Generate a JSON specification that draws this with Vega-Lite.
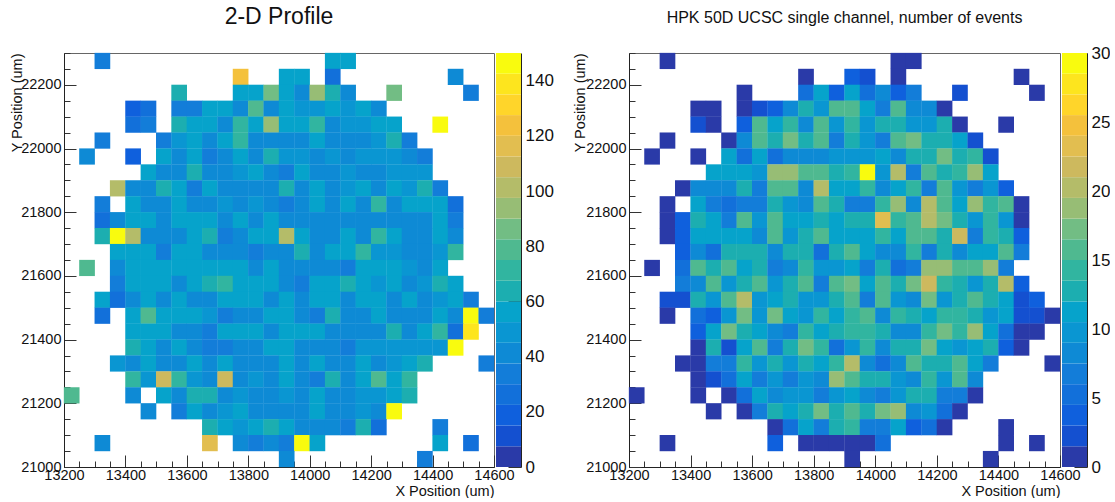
{"$schema":"https://vega.github.io/schema/vega-lite/v6.json","padding":{"left":8,"top":5,"right":0,"bottom":0},"background":"white","config":{"font":"Liberation Sans","view":{"stroke":"#666","strokeWidth":1},"axis":{"grid":false,"labelFont":"Liberation Sans","titleFont":"Liberation Sans","labelColor":"#111","titleColor":"#111","domainColor":"#222","tickColor":"#333"},"title":{"font":"Liberation Sans","color":"#111","fontWeight":"normal"}},"bounds":"flush","spacing":2,"datasets":{"left":[
{"x":13325,"y":22275,"v":34},{"x":14075,"y":22275,"v":56},{"x":14125,"y":22275,"v":58},
{"x":13775,"y":22225,"v":124},{"x":13925,"y":22225,"v":56},{"x":13975,"y":22225,"v":56},{"x":14075,"y":22225,"v":26},{"x":14475,"y":22225,"v":41},
{"x":13575,"y":22175,"v":64},{"x":13775,"y":22175,"v":56},{"x":13825,"y":22175,"v":56},{"x":13875,"y":22175,"v":86},{"x":13925,"y":22175,"v":56},{"x":13975,"y":22175,"v":41},{"x":14025,"y":22175,"v":94},{"x":14075,"y":22175,"v":64},{"x":14125,"y":22175,"v":41},{"x":14275,"y":22175,"v":86},{"x":14525,"y":22175,"v":34},
{"x":13425,"y":22125,"v":19},{"x":13475,"y":22125,"v":26},{"x":13575,"y":22125,"v":34},{"x":13625,"y":22125,"v":34},{"x":13675,"y":22125,"v":56},{"x":13725,"y":22125,"v":56},{"x":13775,"y":22125,"v":41},{"x":13825,"y":22125,"v":79},{"x":13875,"y":22125,"v":41},{"x":13925,"y":22125,"v":56},{"x":13975,"y":22125,"v":49},{"x":14025,"y":22125,"v":49},{"x":14075,"y":22125,"v":58},{"x":14125,"y":22125,"v":49},{"x":14175,"y":22125,"v":58},{"x":14225,"y":22125,"v":41},
{"x":13425,"y":22075,"v":26},{"x":13475,"y":22075,"v":34},{"x":13575,"y":22075,"v":64},{"x":13625,"y":22075,"v":56},{"x":13675,"y":22075,"v":56},{"x":13725,"y":22075,"v":41},{"x":13775,"y":22075,"v":71},{"x":13825,"y":22075,"v":58},{"x":13875,"y":22075,"v":94},{"x":13925,"y":22075,"v":56},{"x":13975,"y":22075,"v":56},{"x":14025,"y":22075,"v":71},{"x":14075,"y":22075,"v":41},{"x":14125,"y":22075,"v":49},{"x":14175,"y":22075,"v":49},{"x":14225,"y":22075,"v":58},{"x":14275,"y":22075,"v":56},{"x":14425,"y":22075,"v":146},
{"x":13325,"y":22025,"v":34},{"x":13525,"y":22025,"v":34},{"x":13575,"y":22025,"v":49},{"x":13625,"y":22025,"v":56},{"x":13675,"y":22025,"v":41},{"x":13725,"y":22025,"v":56},{"x":13775,"y":22025,"v":71},{"x":13825,"y":22025,"v":41},{"x":13875,"y":22025,"v":41},{"x":13925,"y":22025,"v":41},{"x":13975,"y":22025,"v":41},{"x":14025,"y":22025,"v":56},{"x":14075,"y":22025,"v":41},{"x":14125,"y":22025,"v":41},{"x":14175,"y":22025,"v":41},{"x":14225,"y":22025,"v":49},{"x":14275,"y":22025,"v":64},{"x":14325,"y":22025,"v":34},
{"x":13275,"y":21975,"v":41},{"x":13425,"y":21975,"v":19},{"x":13525,"y":21975,"v":58},{"x":13575,"y":21975,"v":41},{"x":13625,"y":21975,"v":56},{"x":13675,"y":21975,"v":34},{"x":13725,"y":21975,"v":41},{"x":13775,"y":21975,"v":56},{"x":13825,"y":21975,"v":41},{"x":13875,"y":21975,"v":64},{"x":13925,"y":21975,"v":49},{"x":13975,"y":21975,"v":49},{"x":14025,"y":21975,"v":41},{"x":14075,"y":21975,"v":49},{"x":14125,"y":21975,"v":41},{"x":14175,"y":21975,"v":49},{"x":14225,"y":21975,"v":49},{"x":14275,"y":21975,"v":49},{"x":14325,"y":21975,"v":41},{"x":14375,"y":21975,"v":34},
{"x":13475,"y":21925,"v":56},{"x":13525,"y":21925,"v":41},{"x":13575,"y":21925,"v":41},{"x":13625,"y":21925,"v":64},{"x":13675,"y":21925,"v":41},{"x":13725,"y":21925,"v":41},{"x":13775,"y":21925,"v":49},{"x":13825,"y":21925,"v":58},{"x":13875,"y":21925,"v":41},{"x":13925,"y":21925,"v":34},{"x":13975,"y":21925,"v":58},{"x":14025,"y":21925,"v":41},{"x":14075,"y":21925,"v":41},{"x":14125,"y":21925,"v":49},{"x":14175,"y":21925,"v":41},{"x":14225,"y":21925,"v":41},{"x":14275,"y":21925,"v":49},{"x":14325,"y":21925,"v":49},{"x":14375,"y":21925,"v":49},
{"x":13375,"y":21875,"v":101},{"x":13425,"y":21875,"v":41},{"x":13475,"y":21875,"v":41},{"x":13525,"y":21875,"v":64},{"x":13575,"y":21875,"v":56},{"x":13625,"y":21875,"v":34},{"x":13675,"y":21875,"v":56},{"x":13725,"y":21875,"v":41},{"x":13775,"y":21875,"v":41},{"x":13825,"y":21875,"v":41},{"x":13875,"y":21875,"v":41},{"x":13925,"y":21875,"v":64},{"x":13975,"y":21875,"v":41},{"x":14025,"y":21875,"v":56},{"x":14075,"y":21875,"v":41},{"x":14125,"y":21875,"v":49},{"x":14175,"y":21875,"v":56},{"x":14225,"y":21875,"v":41},{"x":14275,"y":21875,"v":56},{"x":14325,"y":21875,"v":49},{"x":14375,"y":21875,"v":64},{"x":14425,"y":21875,"v":34},
{"x":13325,"y":21825,"v":34},{"x":13425,"y":21825,"v":56},{"x":13475,"y":21825,"v":41},{"x":13525,"y":21825,"v":41},{"x":13575,"y":21825,"v":56},{"x":13625,"y":21825,"v":41},{"x":13675,"y":21825,"v":41},{"x":13725,"y":21825,"v":49},{"x":13775,"y":21825,"v":41},{"x":13825,"y":21825,"v":49},{"x":13875,"y":21825,"v":41},{"x":13925,"y":21825,"v":34},{"x":13975,"y":21825,"v":41},{"x":14025,"y":21825,"v":56},{"x":14075,"y":21825,"v":41},{"x":14125,"y":21825,"v":56},{"x":14175,"y":21825,"v":41},{"x":14225,"y":21825,"v":71},{"x":14275,"y":21825,"v":41},{"x":14325,"y":21825,"v":56},{"x":14375,"y":21825,"v":56},{"x":14425,"y":21825,"v":56},{"x":14475,"y":21825,"v":26},
{"x":13325,"y":21775,"v":26},{"x":13375,"y":21775,"v":41},{"x":13425,"y":21775,"v":56},{"x":13475,"y":21775,"v":58},{"x":13525,"y":21775,"v":41},{"x":13575,"y":21775,"v":56},{"x":13625,"y":21775,"v":56},{"x":13675,"y":21775,"v":58},{"x":13725,"y":21775,"v":41},{"x":13775,"y":21775,"v":56},{"x":13825,"y":21775,"v":41},{"x":13875,"y":21775,"v":56},{"x":13925,"y":21775,"v":41},{"x":13975,"y":21775,"v":41},{"x":14025,"y":21775,"v":41},{"x":14075,"y":21775,"v":41},{"x":14125,"y":21775,"v":41},{"x":14175,"y":21775,"v":41},{"x":14225,"y":21775,"v":41},{"x":14275,"y":21775,"v":41},{"x":14325,"y":21775,"v":41},{"x":14375,"y":21775,"v":41},{"x":14425,"y":21775,"v":56},{"x":14475,"y":21775,"v":34},
{"x":13325,"y":21725,"v":64},{"x":13375,"y":21725,"v":146},{"x":13425,"y":21725,"v":101},{"x":13475,"y":21725,"v":41},{"x":13525,"y":21725,"v":41},{"x":13575,"y":21725,"v":41},{"x":13625,"y":21725,"v":58},{"x":13675,"y":21725,"v":64},{"x":13725,"y":21725,"v":34},{"x":13775,"y":21725,"v":41},{"x":13825,"y":21725,"v":56},{"x":13875,"y":21725,"v":56},{"x":13925,"y":21725,"v":101},{"x":13975,"y":21725,"v":56},{"x":14025,"y":21725,"v":41},{"x":14075,"y":21725,"v":41},{"x":14125,"y":21725,"v":58},{"x":14175,"y":21725,"v":41},{"x":14225,"y":21725,"v":71},{"x":14275,"y":21725,"v":56},{"x":14325,"y":21725,"v":41},{"x":14375,"y":21725,"v":41},{"x":14425,"y":21725,"v":56},{"x":14475,"y":21725,"v":41},
{"x":13375,"y":21675,"v":56},{"x":13425,"y":21675,"v":56},{"x":13475,"y":21675,"v":56},{"x":13525,"y":21675,"v":34},{"x":13575,"y":21675,"v":58},{"x":13625,"y":21675,"v":56},{"x":13675,"y":21675,"v":41},{"x":13725,"y":21675,"v":41},{"x":13775,"y":21675,"v":41},{"x":13825,"y":21675,"v":34},{"x":13875,"y":21675,"v":41},{"x":13925,"y":21675,"v":41},{"x":13975,"y":21675,"v":64},{"x":14025,"y":21675,"v":41},{"x":14075,"y":21675,"v":56},{"x":14125,"y":21675,"v":56},{"x":14175,"y":21675,"v":71},{"x":14225,"y":21675,"v":49},{"x":14275,"y":21675,"v":49},{"x":14325,"y":21675,"v":41},{"x":14375,"y":21675,"v":41},{"x":14425,"y":21675,"v":49},{"x":14475,"y":21675,"v":71},
{"x":13275,"y":21625,"v":79},{"x":13375,"y":21625,"v":41},{"x":13425,"y":21625,"v":56},{"x":13475,"y":21625,"v":58},{"x":13525,"y":21625,"v":56},{"x":13575,"y":21625,"v":58},{"x":13625,"y":21625,"v":56},{"x":13675,"y":21625,"v":56},{"x":13725,"y":21625,"v":56},{"x":13775,"y":21625,"v":56},{"x":13825,"y":21625,"v":41},{"x":13875,"y":21625,"v":56},{"x":13925,"y":21625,"v":41},{"x":13975,"y":21625,"v":41},{"x":14025,"y":21625,"v":41},{"x":14075,"y":21625,"v":41},{"x":14125,"y":21625,"v":34},{"x":14175,"y":21625,"v":56},{"x":14225,"y":21625,"v":58},{"x":14275,"y":21625,"v":56},{"x":14325,"y":21625,"v":49},{"x":14375,"y":21625,"v":41},{"x":14425,"y":21625,"v":56},
{"x":13375,"y":21575,"v":34},{"x":13425,"y":21575,"v":56},{"x":13475,"y":21575,"v":56},{"x":13525,"y":21575,"v":56},{"x":13575,"y":21575,"v":41},{"x":13625,"y":21575,"v":58},{"x":13675,"y":21575,"v":64},{"x":13725,"y":21575,"v":71},{"x":13775,"y":21575,"v":56},{"x":13825,"y":21575,"v":56},{"x":13875,"y":21575,"v":58},{"x":13925,"y":21575,"v":41},{"x":13975,"y":21575,"v":34},{"x":14025,"y":21575,"v":56},{"x":14075,"y":21575,"v":56},{"x":14125,"y":21575,"v":64},{"x":14175,"y":21575,"v":56},{"x":14225,"y":21575,"v":49},{"x":14275,"y":21575,"v":58},{"x":14325,"y":21575,"v":41},{"x":14375,"y":21575,"v":49},{"x":14425,"y":21575,"v":64},{"x":14475,"y":21575,"v":58},
{"x":13325,"y":21525,"v":56},{"x":13375,"y":21525,"v":26},{"x":13425,"y":21525,"v":41},{"x":13475,"y":21525,"v":56},{"x":13525,"y":21525,"v":41},{"x":13575,"y":21525,"v":58},{"x":13625,"y":21525,"v":41},{"x":13675,"y":21525,"v":41},{"x":13725,"y":21525,"v":56},{"x":13775,"y":21525,"v":56},{"x":13825,"y":21525,"v":58},{"x":13875,"y":21525,"v":41},{"x":13925,"y":21525,"v":56},{"x":13975,"y":21525,"v":41},{"x":14025,"y":21525,"v":56},{"x":14075,"y":21525,"v":58},{"x":14125,"y":21525,"v":41},{"x":14175,"y":21525,"v":58},{"x":14225,"y":21525,"v":58},{"x":14275,"y":21525,"v":41},{"x":14325,"y":21525,"v":56},{"x":14375,"y":21525,"v":41},{"x":14425,"y":21525,"v":49},{"x":14475,"y":21525,"v":56},{"x":14525,"y":21525,"v":34},
{"x":13325,"y":21475,"v":26},{"x":13425,"y":21475,"v":56},{"x":13475,"y":21475,"v":79},{"x":13525,"y":21475,"v":56},{"x":13575,"y":21475,"v":58},{"x":13625,"y":21475,"v":56},{"x":13675,"y":21475,"v":49},{"x":13725,"y":21475,"v":34},{"x":13775,"y":21475,"v":41},{"x":13825,"y":21475,"v":41},{"x":13875,"y":21475,"v":58},{"x":13925,"y":21475,"v":56},{"x":13975,"y":21475,"v":41},{"x":14025,"y":21475,"v":34},{"x":14075,"y":21475,"v":64},{"x":14125,"y":21475,"v":41},{"x":14175,"y":21475,"v":41},{"x":14225,"y":21475,"v":58},{"x":14275,"y":21475,"v":41},{"x":14325,"y":21475,"v":41},{"x":14375,"y":21475,"v":41},{"x":14425,"y":21475,"v":56},{"x":14475,"y":21475,"v":41},{"x":14525,"y":21475,"v":146},{"x":14575,"y":21475,"v":34},
{"x":13425,"y":21425,"v":58},{"x":13475,"y":21425,"v":58},{"x":13525,"y":21425,"v":56},{"x":13575,"y":21425,"v":41},{"x":13625,"y":21425,"v":41},{"x":13675,"y":21425,"v":34},{"x":13725,"y":21425,"v":56},{"x":13775,"y":21425,"v":56},{"x":13825,"y":21425,"v":58},{"x":13875,"y":21425,"v":41},{"x":13925,"y":21425,"v":56},{"x":13975,"y":21425,"v":56},{"x":14025,"y":21425,"v":56},{"x":14075,"y":21425,"v":41},{"x":14125,"y":21425,"v":41},{"x":14175,"y":21425,"v":41},{"x":14225,"y":21425,"v":41},{"x":14275,"y":21425,"v":64},{"x":14325,"y":21425,"v":41},{"x":14375,"y":21425,"v":56},{"x":14425,"y":21425,"v":71},{"x":14475,"y":21425,"v":26},{"x":14525,"y":21425,"v":139},
{"x":13425,"y":21375,"v":64},{"x":13475,"y":21375,"v":58},{"x":13525,"y":21375,"v":41},{"x":13575,"y":21375,"v":56},{"x":13625,"y":21375,"v":41},{"x":13675,"y":21375,"v":34},{"x":13725,"y":21375,"v":34},{"x":13775,"y":21375,"v":41},{"x":13825,"y":21375,"v":41},{"x":13875,"y":21375,"v":58},{"x":13925,"y":21375,"v":56},{"x":13975,"y":21375,"v":41},{"x":14025,"y":21375,"v":41},{"x":14075,"y":21375,"v":41},{"x":14125,"y":21375,"v":34},{"x":14175,"y":21375,"v":49},{"x":14225,"y":21375,"v":49},{"x":14275,"y":21375,"v":49},{"x":14325,"y":21375,"v":49},{"x":14375,"y":21375,"v":49},{"x":14425,"y":21375,"v":49},{"x":14475,"y":21375,"v":146},
{"x":13375,"y":21325,"v":49},{"x":13425,"y":21325,"v":41},{"x":13475,"y":21325,"v":58},{"x":13525,"y":21325,"v":41},{"x":13575,"y":21325,"v":41},{"x":13625,"y":21325,"v":58},{"x":13675,"y":21325,"v":41},{"x":13725,"y":21325,"v":56},{"x":13775,"y":21325,"v":41},{"x":13825,"y":21325,"v":41},{"x":13875,"y":21325,"v":41},{"x":13925,"y":21325,"v":56},{"x":13975,"y":21325,"v":41},{"x":14025,"y":21325,"v":58},{"x":14075,"y":21325,"v":41},{"x":14125,"y":21325,"v":41},{"x":14175,"y":21325,"v":56},{"x":14225,"y":21325,"v":41},{"x":14275,"y":21325,"v":49},{"x":14325,"y":21325,"v":56},{"x":14375,"y":21325,"v":64},{"x":14575,"y":21325,"v":34},
{"x":13425,"y":21275,"v":71},{"x":13475,"y":21275,"v":49},{"x":13525,"y":21275,"v":109},{"x":13575,"y":21275,"v":71},{"x":13625,"y":21275,"v":49},{"x":13675,"y":21275,"v":41},{"x":13725,"y":21275,"v":109},{"x":13775,"y":21275,"v":41},{"x":13825,"y":21275,"v":49},{"x":13875,"y":21275,"v":41},{"x":13925,"y":21275,"v":58},{"x":13975,"y":21275,"v":41},{"x":14025,"y":21275,"v":34},{"x":14075,"y":21275,"v":64},{"x":14125,"y":21275,"v":41},{"x":14175,"y":21275,"v":56},{"x":14225,"y":21275,"v":79},{"x":14275,"y":21275,"v":56},{"x":14325,"y":21275,"v":71},
{"x":13225,"y":21225,"v":79},{"x":13425,"y":21225,"v":41},{"x":13525,"y":21225,"v":56},{"x":13575,"y":21225,"v":41},{"x":13625,"y":21225,"v":64},{"x":13675,"y":21225,"v":64},{"x":13725,"y":21225,"v":41},{"x":13775,"y":21225,"v":49},{"x":13825,"y":21225,"v":41},{"x":13875,"y":21225,"v":41},{"x":13925,"y":21225,"v":49},{"x":13975,"y":21225,"v":41},{"x":14025,"y":21225,"v":56},{"x":14075,"y":21225,"v":41},{"x":14125,"y":21225,"v":41},{"x":14175,"y":21225,"v":49},{"x":14225,"y":21225,"v":49},{"x":14275,"y":21225,"v":56},{"x":14325,"y":21225,"v":64},
{"x":13475,"y":21175,"v":41},{"x":13575,"y":21175,"v":34},{"x":13625,"y":21175,"v":58},{"x":13675,"y":21175,"v":41},{"x":13725,"y":21175,"v":49},{"x":13775,"y":21175,"v":56},{"x":13825,"y":21175,"v":41},{"x":13875,"y":21175,"v":41},{"x":13925,"y":21175,"v":41},{"x":13975,"y":21175,"v":41},{"x":14025,"y":21175,"v":56},{"x":14075,"y":21175,"v":41},{"x":14125,"y":21175,"v":41},{"x":14175,"y":21175,"v":49},{"x":14225,"y":21175,"v":41},{"x":14275,"y":21175,"v":146},
{"x":13675,"y":21125,"v":64},{"x":13725,"y":21125,"v":56},{"x":13775,"y":21125,"v":49},{"x":13825,"y":21125,"v":56},{"x":13875,"y":21125,"v":64},{"x":13925,"y":21125,"v":56},{"x":13975,"y":21125,"v":41},{"x":14025,"y":21125,"v":41},{"x":14075,"y":21125,"v":41},{"x":14125,"y":21125,"v":34},{"x":14175,"y":21125,"v":64},{"x":14225,"y":21125,"v":26},{"x":14425,"y":21125,"v":34},
{"x":13325,"y":21075,"v":41},{"x":13675,"y":21075,"v":116},{"x":13775,"y":21075,"v":41},{"x":13825,"y":21075,"v":34},{"x":13875,"y":21075,"v":41},{"x":13925,"y":21075,"v":34},{"x":13975,"y":21075,"v":146},{"x":14025,"y":21075,"v":56},{"x":14425,"y":21075,"v":56},{"x":14525,"y":21075,"v":26},
{"x":13925,"y":21025,"v":41},{"x":14375,"y":21025,"v":34}
],"right":[
{"x":13325,"y":22275,"v":1},{"x":14075,"y":22275,"v":1},{"x":14125,"y":22275,"v":1},
{"x":13775,"y":22225,"v":1},{"x":13925,"y":22225,"v":3},{"x":13975,"y":22225,"v":2},{"x":14075,"y":22225,"v":1},{"x":14475,"y":22225,"v":1},
{"x":13575,"y":22175,"v":1},{"x":13775,"y":22175,"v":5},{"x":13825,"y":22175,"v":11},{"x":13875,"y":22175,"v":3},{"x":13925,"y":22175,"v":11},{"x":13975,"y":22175,"v":5},{"x":14025,"y":22175,"v":8},{"x":14075,"y":22175,"v":3},{"x":14125,"y":22175,"v":6},{"x":14275,"y":22175,"v":2},{"x":14525,"y":22175,"v":1},
{"x":13425,"y":22125,"v":1},{"x":13475,"y":22125,"v":1},{"x":13575,"y":22125,"v":1},{"x":13625,"y":22125,"v":2},{"x":13675,"y":22125,"v":3},{"x":13725,"y":22125,"v":8},{"x":13775,"y":22125,"v":12},{"x":13825,"y":22125,"v":9},{"x":13875,"y":22125,"v":15},{"x":13925,"y":22125,"v":15},{"x":13975,"y":22125,"v":11},{"x":14025,"y":22125,"v":6},{"x":14075,"y":22125,"v":15},{"x":14125,"y":22125,"v":8},{"x":14175,"y":22125,"v":8},{"x":14225,"y":22125,"v":1},
{"x":13425,"y":22075,"v":2},{"x":13475,"y":22075,"v":1},{"x":13575,"y":22075,"v":3},{"x":13625,"y":22075,"v":15},{"x":13675,"y":22075,"v":11},{"x":13725,"y":22075,"v":14},{"x":13775,"y":22075,"v":8},{"x":13825,"y":22075,"v":15},{"x":13875,"y":22075,"v":9},{"x":13925,"y":22075,"v":14},{"x":13975,"y":22075,"v":9},{"x":14025,"y":22075,"v":12},{"x":14075,"y":22075,"v":12},{"x":14125,"y":22075,"v":9},{"x":14175,"y":22075,"v":9},{"x":14225,"y":22075,"v":12},{"x":14275,"y":22075,"v":1},{"x":14425,"y":22075,"v":1},
{"x":13325,"y":22025,"v":1},{"x":13525,"y":22025,"v":1},{"x":13575,"y":22025,"v":8},{"x":13625,"y":22025,"v":15},{"x":13675,"y":22025,"v":12},{"x":13725,"y":22025,"v":17},{"x":13775,"y":22025,"v":12},{"x":13825,"y":22025,"v":15},{"x":13875,"y":22025,"v":6},{"x":13925,"y":22025,"v":12},{"x":13975,"y":22025,"v":9},{"x":14025,"y":22025,"v":6},{"x":14075,"y":22025,"v":15},{"x":14125,"y":22025,"v":17},{"x":14175,"y":22025,"v":12},{"x":14225,"y":22025,"v":12},{"x":14275,"y":22025,"v":11},{"x":14325,"y":22025,"v":2},
{"x":13275,"y":21975,"v":1},{"x":13425,"y":21975,"v":1},{"x":13525,"y":21975,"v":11},{"x":13575,"y":21975,"v":5},{"x":13625,"y":21975,"v":11},{"x":13675,"y":21975,"v":5},{"x":13725,"y":21975,"v":8},{"x":13775,"y":21975,"v":8},{"x":13825,"y":21975,"v":8},{"x":13875,"y":21975,"v":9},{"x":13925,"y":21975,"v":9},{"x":13975,"y":21975,"v":9},{"x":14025,"y":21975,"v":11},{"x":14075,"y":21975,"v":8},{"x":14125,"y":21975,"v":12},{"x":14175,"y":21975,"v":12},{"x":14225,"y":21975,"v":17},{"x":14275,"y":21975,"v":12},{"x":14325,"y":21975,"v":14},{"x":14375,"y":21975,"v":2},
{"x":13475,"y":21925,"v":11},{"x":13525,"y":21925,"v":11},{"x":13575,"y":21925,"v":11},{"x":13625,"y":21925,"v":9},{"x":13675,"y":21925,"v":18},{"x":13725,"y":21925,"v":18},{"x":13775,"y":21925,"v":15},{"x":13825,"y":21925,"v":15},{"x":13875,"y":21925,"v":12},{"x":13925,"y":21925,"v":14},{"x":13975,"y":21925,"v":30},{"x":14025,"y":21925,"v":9},{"x":14075,"y":21925,"v":20},{"x":14125,"y":21925,"v":6},{"x":14175,"y":21925,"v":15},{"x":14225,"y":21925,"v":12},{"x":14275,"y":21925,"v":14},{"x":14325,"y":21925,"v":18},{"x":14375,"y":21925,"v":11},
{"x":13375,"y":21875,"v":1},{"x":13425,"y":21875,"v":8},{"x":13475,"y":21875,"v":8},{"x":13525,"y":21875,"v":8},{"x":13575,"y":21875,"v":12},{"x":13625,"y":21875,"v":6},{"x":13675,"y":21875,"v":15},{"x":13725,"y":21875,"v":15},{"x":13775,"y":21875,"v":8},{"x":13825,"y":21875,"v":20},{"x":13875,"y":21875,"v":11},{"x":13925,"y":21875,"v":11},{"x":13975,"y":21875,"v":14},{"x":14025,"y":21875,"v":8},{"x":14075,"y":21875,"v":11},{"x":14125,"y":21875,"v":14},{"x":14175,"y":21875,"v":6},{"x":14225,"y":21875,"v":15},{"x":14275,"y":21875,"v":9},{"x":14325,"y":21875,"v":6},{"x":14375,"y":21875,"v":9},{"x":14425,"y":21875,"v":3},
{"x":13325,"y":21825,"v":1},{"x":13425,"y":21825,"v":11},{"x":13475,"y":21825,"v":6},{"x":13525,"y":21825,"v":5},{"x":13575,"y":21825,"v":6},{"x":13625,"y":21825,"v":6},{"x":13675,"y":21825,"v":12},{"x":13725,"y":21825,"v":9},{"x":13775,"y":21825,"v":8},{"x":13825,"y":21825,"v":15},{"x":13875,"y":21825,"v":12},{"x":13925,"y":21825,"v":6},{"x":13975,"y":21825,"v":6},{"x":14025,"y":21825,"v":14},{"x":14075,"y":21825,"v":18},{"x":14125,"y":21825,"v":8},{"x":14175,"y":21825,"v":20},{"x":14225,"y":21825,"v":15},{"x":14275,"y":21825,"v":11},{"x":14325,"y":21825,"v":18},{"x":14375,"y":21825,"v":14},{"x":14425,"y":21825,"v":15},{"x":14475,"y":21825,"v":1},
{"x":13325,"y":21775,"v":1},{"x":13375,"y":21775,"v":3},{"x":13425,"y":21775,"v":12},{"x":13475,"y":21775,"v":11},{"x":13525,"y":21775,"v":6},{"x":13575,"y":21775,"v":15},{"x":13625,"y":21775,"v":9},{"x":13675,"y":21775,"v":15},{"x":13725,"y":21775,"v":11},{"x":13775,"y":21775,"v":11},{"x":13825,"y":21775,"v":12},{"x":13875,"y":21775,"v":11},{"x":13925,"y":21775,"v":12},{"x":13975,"y":21775,"v":12},{"x":14025,"y":21775,"v":23},{"x":14075,"y":21775,"v":14},{"x":14125,"y":21775,"v":15},{"x":14175,"y":21775,"v":20},{"x":14225,"y":21775,"v":17},{"x":14275,"y":21775,"v":12},{"x":14325,"y":21775,"v":9},{"x":14375,"y":21775,"v":14},{"x":14425,"y":21775,"v":9},{"x":14475,"y":21775,"v":1},
{"x":13325,"y":21725,"v":1},{"x":13375,"y":21725,"v":3},{"x":13425,"y":21725,"v":11},{"x":13475,"y":21725,"v":11},{"x":13525,"y":21725,"v":11},{"x":13575,"y":21725,"v":11},{"x":13625,"y":21725,"v":8},{"x":13675,"y":21725,"v":15},{"x":13725,"y":21725,"v":9},{"x":13775,"y":21725,"v":12},{"x":13825,"y":21725,"v":15},{"x":13875,"y":21725,"v":11},{"x":13925,"y":21725,"v":11},{"x":13975,"y":21725,"v":11},{"x":14025,"y":21725,"v":14},{"x":14075,"y":21725,"v":11},{"x":14125,"y":21725,"v":15},{"x":14175,"y":21725,"v":15},{"x":14225,"y":21725,"v":12},{"x":14275,"y":21725,"v":21},{"x":14325,"y":21725,"v":6},{"x":14375,"y":21725,"v":14},{"x":14425,"y":21725,"v":12},{"x":14475,"y":21725,"v":3},
{"x":13375,"y":21675,"v":3},{"x":13425,"y":21675,"v":8},{"x":13475,"y":21675,"v":5},{"x":13525,"y":21675,"v":12},{"x":13575,"y":21675,"v":12},{"x":13625,"y":21675,"v":12},{"x":13675,"y":21675,"v":8},{"x":13725,"y":21675,"v":12},{"x":13775,"y":21675,"v":12},{"x":13825,"y":21675,"v":5},{"x":13875,"y":21675,"v":12},{"x":13925,"y":21675,"v":15},{"x":13975,"y":21675,"v":11},{"x":14025,"y":21675,"v":8},{"x":14075,"y":21675,"v":8},{"x":14125,"y":21675,"v":14},{"x":14175,"y":21675,"v":6},{"x":14225,"y":21675,"v":12},{"x":14275,"y":21675,"v":8},{"x":14325,"y":21675,"v":11},{"x":14375,"y":21675,"v":11},{"x":14425,"y":21675,"v":15},{"x":14475,"y":21675,"v":6},
{"x":13275,"y":21625,"v":1},{"x":13375,"y":21625,"v":5},{"x":13425,"y":21625,"v":15},{"x":13475,"y":21625,"v":12},{"x":13525,"y":21625,"v":15},{"x":13575,"y":21625,"v":11},{"x":13625,"y":21625,"v":12},{"x":13675,"y":21625,"v":6},{"x":13725,"y":21625,"v":8},{"x":13775,"y":21625,"v":14},{"x":13825,"y":21625,"v":9},{"x":13875,"y":21625,"v":9},{"x":13925,"y":21625,"v":11},{"x":13975,"y":21625,"v":6},{"x":14025,"y":21625,"v":12},{"x":14075,"y":21625,"v":5},{"x":14125,"y":21625,"v":6},{"x":14175,"y":21625,"v":18},{"x":14225,"y":21625,"v":18},{"x":14275,"y":21625,"v":15},{"x":14325,"y":21625,"v":15},{"x":14375,"y":21625,"v":18},{"x":14425,"y":21625,"v":6},
{"x":13375,"y":21575,"v":6},{"x":13425,"y":21575,"v":8},{"x":13475,"y":21575,"v":15},{"x":13525,"y":21575,"v":9},{"x":13575,"y":21575,"v":12},{"x":13625,"y":21575,"v":15},{"x":13675,"y":21575,"v":9},{"x":13725,"y":21575,"v":12},{"x":13775,"y":21575,"v":15},{"x":13825,"y":21575,"v":6},{"x":13875,"y":21575,"v":15},{"x":13925,"y":21575,"v":17},{"x":13975,"y":21575,"v":11},{"x":14025,"y":21575,"v":15},{"x":14075,"y":21575,"v":12},{"x":14125,"y":21575,"v":17},{"x":14175,"y":21575,"v":21},{"x":14225,"y":21575,"v":14},{"x":14275,"y":21575,"v":12},{"x":14325,"y":21575,"v":9},{"x":14375,"y":21575,"v":12},{"x":14425,"y":21575,"v":20},{"x":14475,"y":21575,"v":3},
{"x":13325,"y":21525,"v":2},{"x":13375,"y":21525,"v":2},{"x":13425,"y":21525,"v":12},{"x":13475,"y":21525,"v":9},{"x":13525,"y":21525,"v":15},{"x":13575,"y":21525,"v":20},{"x":13625,"y":21525,"v":9},{"x":13675,"y":21525,"v":11},{"x":13725,"y":21525,"v":12},{"x":13775,"y":21525,"v":9},{"x":13825,"y":21525,"v":9},{"x":13875,"y":21525,"v":12},{"x":13925,"y":21525,"v":15},{"x":13975,"y":21525,"v":6},{"x":14025,"y":21525,"v":15},{"x":14075,"y":21525,"v":9},{"x":14125,"y":21525,"v":8},{"x":14175,"y":21525,"v":17},{"x":14225,"y":21525,"v":9},{"x":14275,"y":21525,"v":12},{"x":14325,"y":21525,"v":15},{"x":14375,"y":21525,"v":12},{"x":14425,"y":21525,"v":11},{"x":14475,"y":21525,"v":2},{"x":14525,"y":21525,"v":3},
{"x":13325,"y":21475,"v":1},{"x":13425,"y":21475,"v":5},{"x":13475,"y":21475,"v":3},{"x":13525,"y":21475,"v":9},{"x":13575,"y":21475,"v":17},{"x":13625,"y":21475,"v":9},{"x":13675,"y":21475,"v":17},{"x":13725,"y":21475,"v":11},{"x":13775,"y":21475,"v":9},{"x":13825,"y":21475,"v":14},{"x":13875,"y":21475,"v":11},{"x":13925,"y":21475,"v":14},{"x":13975,"y":21475,"v":15},{"x":14025,"y":21475,"v":8},{"x":14075,"y":21475,"v":14},{"x":14125,"y":21475,"v":12},{"x":14175,"y":21475,"v":11},{"x":14225,"y":21475,"v":14},{"x":14275,"y":21475,"v":14},{"x":14325,"y":21475,"v":12},{"x":14375,"y":21475,"v":9},{"x":14425,"y":21475,"v":11},{"x":14475,"y":21475,"v":2},{"x":14525,"y":21475,"v":2},{"x":14575,"y":21475,"v":1},
{"x":13425,"y":21425,"v":3},{"x":13475,"y":21425,"v":11},{"x":13525,"y":21425,"v":17},{"x":13575,"y":21425,"v":12},{"x":13625,"y":21425,"v":11},{"x":13675,"y":21425,"v":8},{"x":13725,"y":21425,"v":6},{"x":13775,"y":21425,"v":14},{"x":13825,"y":21425,"v":11},{"x":13875,"y":21425,"v":12},{"x":13925,"y":21425,"v":14},{"x":13975,"y":21425,"v":14},{"x":14025,"y":21425,"v":12},{"x":14075,"y":21425,"v":8},{"x":14125,"y":21425,"v":8},{"x":14175,"y":21425,"v":14},{"x":14225,"y":21425,"v":17},{"x":14275,"y":21425,"v":14},{"x":14325,"y":21425,"v":18},{"x":14375,"y":21425,"v":11},{"x":14425,"y":21425,"v":5},{"x":14475,"y":21425,"v":1},{"x":14525,"y":21425,"v":1},
{"x":13425,"y":21375,"v":1},{"x":13475,"y":21375,"v":12},{"x":13525,"y":21375,"v":2},{"x":13575,"y":21375,"v":11},{"x":13625,"y":21375,"v":15},{"x":13675,"y":21375,"v":6},{"x":13725,"y":21375,"v":12},{"x":13775,"y":21375,"v":17},{"x":13825,"y":21375,"v":14},{"x":13875,"y":21375,"v":5},{"x":13925,"y":21375,"v":9},{"x":13975,"y":21375,"v":14},{"x":14025,"y":21375,"v":8},{"x":14075,"y":21375,"v":12},{"x":14125,"y":21375,"v":12},{"x":14175,"y":21375,"v":17},{"x":14225,"y":21375,"v":11},{"x":14275,"y":21375,"v":9},{"x":14325,"y":21375,"v":11},{"x":14375,"y":21375,"v":12},{"x":14425,"y":21375,"v":3},{"x":14475,"y":21375,"v":1},
{"x":13375,"y":21325,"v":1},{"x":13425,"y":21325,"v":1},{"x":13475,"y":21325,"v":6},{"x":13525,"y":21325,"v":6},{"x":13575,"y":21325,"v":14},{"x":13625,"y":21325,"v":9},{"x":13675,"y":21325,"v":12},{"x":13725,"y":21325,"v":9},{"x":13775,"y":21325,"v":12},{"x":13825,"y":21325,"v":11},{"x":13875,"y":21325,"v":14},{"x":13925,"y":21325,"v":20},{"x":13975,"y":21325,"v":8},{"x":14025,"y":21325,"v":5},{"x":14075,"y":21325,"v":8},{"x":14125,"y":21325,"v":15},{"x":14175,"y":21325,"v":12},{"x":14225,"y":21325,"v":12},{"x":14275,"y":21325,"v":15},{"x":14325,"y":21325,"v":11},{"x":14375,"y":21325,"v":6},{"x":14575,"y":21325,"v":1},
{"x":13425,"y":21275,"v":1},{"x":13475,"y":21275,"v":2},{"x":13525,"y":21275,"v":5},{"x":13575,"y":21275,"v":11},{"x":13625,"y":21275,"v":6},{"x":13675,"y":21275,"v":9},{"x":13725,"y":21275,"v":6},{"x":13775,"y":21275,"v":9},{"x":13825,"y":21275,"v":8},{"x":13875,"y":21275,"v":18},{"x":13925,"y":21275,"v":15},{"x":13975,"y":21275,"v":12},{"x":14025,"y":21275,"v":12},{"x":14075,"y":21275,"v":9},{"x":14125,"y":21275,"v":8},{"x":14175,"y":21275,"v":14},{"x":14225,"y":21275,"v":9},{"x":14275,"y":21275,"v":15},{"x":14325,"y":21275,"v":8},
{"x":13225,"y":21225,"v":1},{"x":13425,"y":21225,"v":1},{"x":13525,"y":21225,"v":1},{"x":13575,"y":21225,"v":5},{"x":13625,"y":21225,"v":11},{"x":13675,"y":21225,"v":8},{"x":13725,"y":21225,"v":9},{"x":13775,"y":21225,"v":9},{"x":13825,"y":21225,"v":6},{"x":13875,"y":21225,"v":9},{"x":13925,"y":21225,"v":11},{"x":13975,"y":21225,"v":8},{"x":14025,"y":21225,"v":6},{"x":14075,"y":21225,"v":9},{"x":14125,"y":21225,"v":12},{"x":14175,"y":21225,"v":12},{"x":14225,"y":21225,"v":6},{"x":14275,"y":21225,"v":6},{"x":14325,"y":21225,"v":1},
{"x":13475,"y":21175,"v":1},{"x":13575,"y":21175,"v":1},{"x":13625,"y":21175,"v":6},{"x":13675,"y":21175,"v":12},{"x":13725,"y":21175,"v":11},{"x":13775,"y":21175,"v":12},{"x":13825,"y":21175,"v":17},{"x":13875,"y":21175,"v":12},{"x":13925,"y":21175,"v":15},{"x":13975,"y":21175,"v":12},{"x":14025,"y":21175,"v":17},{"x":14075,"y":21175,"v":18},{"x":14125,"y":21175,"v":8},{"x":14175,"y":21175,"v":9},{"x":14225,"y":21175,"v":5},{"x":14275,"y":21175,"v":1},
{"x":13675,"y":21125,"v":1},{"x":13725,"y":21125,"v":5},{"x":13775,"y":21125,"v":11},{"x":13825,"y":21125,"v":6},{"x":13875,"y":21125,"v":12},{"x":13925,"y":21125,"v":14},{"x":13975,"y":21125,"v":6},{"x":14025,"y":21125,"v":6},{"x":14075,"y":21125,"v":11},{"x":14125,"y":21125,"v":3},{"x":14175,"y":21125,"v":5},{"x":14225,"y":21125,"v":1},{"x":14425,"y":21125,"v":1},
{"x":13325,"y":21075,"v":1},{"x":13675,"y":21075,"v":3},{"x":13775,"y":21075,"v":1},{"x":13825,"y":21075,"v":1},{"x":13875,"y":21075,"v":1},{"x":13925,"y":21075,"v":1},{"x":13975,"y":21075,"v":1},{"x":14025,"y":21075,"v":5},{"x":14425,"y":21075,"v":1},{"x":14525,"y":21075,"v":1},
{"x":13925,"y":21025,"v":1},{"x":14375,"y":21025,"v":1}
],"barL":[{"lo":0,"hi":7.5},{"lo":7.5,"hi":15},{"lo":15,"hi":22.5},{"lo":22.5,"hi":30},{"lo":30,"hi":37.5},{"lo":37.5,"hi":45},{"lo":45,"hi":52.5},{"lo":52.5,"hi":60},{"lo":60,"hi":67.5},{"lo":67.5,"hi":75},{"lo":75,"hi":82.5},{"lo":82.5,"hi":90},{"lo":90,"hi":97.5},{"lo":97.5,"hi":105},{"lo":105,"hi":112.5},{"lo":112.5,"hi":120},{"lo":120,"hi":127.5},{"lo":127.5,"hi":135},{"lo":135,"hi":142.5},{"lo":142.5,"hi":150}],"barR":[{"lo":0,"hi":1.5},{"lo":1.5,"hi":3},{"lo":3,"hi":4.5},{"lo":4.5,"hi":6},{"lo":6,"hi":7.5},{"lo":7.5,"hi":9},{"lo":9,"hi":10.5},{"lo":10.5,"hi":12},{"lo":12,"hi":13.5},{"lo":13.5,"hi":15},{"lo":15,"hi":16.5},{"lo":16.5,"hi":18},{"lo":18,"hi":19.5},{"lo":19.5,"hi":21},{"lo":21,"hi":22.5},{"lo":22.5,"hi":24},{"lo":24,"hi":25.5},{"lo":25.5,"hi":27},{"lo":27,"hi":28.5},{"lo":28.5,"hi":30}]},
"hconcat":[
{"width":430,"height":414,"data":{"name":"left"},"title":{"text":"2-D Profile","fontSize":23,"anchor":"middle","offset":16},"mark":{"type":"rect","width":15.7,"height":16.2},"encoding":{
"x":{"field":"x","type":"quantitative","scale":{"domain":[13200,14600],"nice":false,"zero":false},"axis":{"orient":"bottom","values":[13200,13250,13300,13350,13400,13450,13500,13550,13600,13650,13700,13750,13800,13850,13900,13950,14000,14050,14100,14150,14200,14250,14300,14350,14400,14450,14500,14550,14600],"format":"d","labelExpr":"datum.value % 200 === 0 ? datum.label : ''","labelOverlap":false,"labelFlush":false,"labelFontSize":14.5,"labelPadding":13,"tickSize":{"condition":{"test":"datum.value % 200 === 0","value":-12},"value":-6},"title":"X Position (um)","titleFontSize":14.5,"titleFontWeight":"normal","titleX":430,"titleY":28,"titleAlign":"right","titleBaseline":"alphabetic"}},
"y":{"field":"y","type":"quantitative","scale":{"domain":[21000,22300],"nice":false,"zero":false},"axis":{"orient":"left","values":[21000,21050,21100,21150,21200,21250,21300,21350,21400,21450,21500,21550,21600,21650,21700,21750,21800,21850,21900,21950,22000,22050,22100,22150,22200,22250,22300],"format":"d","labelExpr":"datum.value % 200 === 0 ? datum.label : ''","labelOverlap":false,"labelFlush":false,"labelFontSize":14.5,"labelPadding":15,"tickSize":{"condition":{"test":"datum.value % 200 === 0","value":-12},"value":-6},"title":"Y Position (um)","titleFontSize":14.5,"titleFontWeight":"normal","titleX":-43,"titleY":0,"titleAlign":"right","titleBaseline":"alphabetic"}},
"color":{"field":"v","type":"quantitative","legend":null,"scale":{"type":"threshold","domain":[7.5,15,22.5,30,37.5,45,52.5,60,67.5,75,82.5,90,97.5,105,112.5,120,127.5,135,142.5],"range":["#2a3aa8","#1450d0","#0f60dd","#1270da","#137dd9","#0e8ad5","#0a96d2","#06a3cb","#1caeb0","#31b5a0","#4fb990","#72bd84","#97bd75","#b4bc69","#cdb95e","#e2be50","#f4c13c","#ffd52a","#fde51e","#f9fb0e"]}}}},
{"width":25,"height":414,"view":{"stroke":null},"data":{"name":"barL"},"mark":{"type":"rect"},"encoding":{
"y":{"field":"lo","type":"quantitative","scale":{"domain":[0,150],"nice":false},"axis":{"orient":"right","values":[0,20,40,60,80,100,120,140],"labelFontSize":17,"labelPadding":17,"tickSize":-13,"title":null}},"y2":{"field":"hi"},
"color":{"field":"lo","type":"quantitative","legend":null,"scale":{"type":"threshold","domain":[7.5,15,22.5,30,37.5,45,52.5,60,67.5,75,82.5,90,97.5,105,112.5,120,127.5,135,142.5],"range":["#2a3aa8","#1450d0","#0f60dd","#1270da","#137dd9","#0e8ad5","#0a96d2","#06a3cb","#1caeb0","#31b5a0","#4fb990","#72bd84","#97bd75","#b4bc69","#cdb95e","#e2be50","#f4c13c","#ffd52a","#fde51e","#f9fb0e"]}}}},
{"width":104,"height":414,"view":{"stroke":null},"data":{"values":[]},"mark":{"type":"rect","opacity":0},"encoding":{}},
{"width":431,"height":414,"data":{"name":"right"},"title":{"text":"HPK 50D UCSC single channel, number of events","fontSize":16,"anchor":"middle","offset":19},"mark":{"type":"rect","width":15.7,"height":16.2},"encoding":{
"x":{"field":"x","type":"quantitative","scale":{"domain":[13200,14600],"nice":false,"zero":false},"axis":{"orient":"bottom","values":[13200,13250,13300,13350,13400,13450,13500,13550,13600,13650,13700,13750,13800,13850,13900,13950,14000,14050,14100,14150,14200,14250,14300,14350,14400,14450,14500,14550,14600],"format":"d","labelExpr":"datum.value % 200 === 0 ? datum.label : ''","labelOverlap":false,"labelFlush":false,"labelFontSize":14.5,"labelPadding":13,"tickSize":{"condition":{"test":"datum.value % 200 === 0","value":-12},"value":-6},"title":"X Position (um)","titleFontSize":14.5,"titleFontWeight":"normal","titleX":431,"titleY":28,"titleAlign":"right","titleBaseline":"alphabetic"}},
"y":{"field":"y","type":"quantitative","scale":{"domain":[21000,22300],"nice":false,"zero":false},"axis":{"orient":"left","values":[21000,21050,21100,21150,21200,21250,21300,21350,21400,21450,21500,21550,21600,21650,21700,21750,21800,21850,21900,21950,22000,22050,22100,22150,22200,22250,22300],"format":"d","labelExpr":"datum.value % 200 === 0 ? datum.label : ''","labelOverlap":false,"labelFlush":false,"labelFontSize":14.5,"labelPadding":15,"tickSize":{"condition":{"test":"datum.value % 200 === 0","value":-12},"value":-6},"title":"Y Position (um)","titleFontSize":14.5,"titleFontWeight":"normal","titleX":-45,"titleY":0,"titleAlign":"right","titleBaseline":"alphabetic"}},
"color":{"field":"v","type":"quantitative","legend":null,"scale":{"type":"threshold","domain":[1.5,3,4.5,6,7.5,9,10.5,12,13.5,15,16.5,18,19.5,21,22.5,24,25.5,27,28.5],"range":["#2a3aa8","#1450d0","#0f60dd","#1270da","#137dd9","#0e8ad5","#0a96d2","#06a3cb","#1caeb0","#31b5a0","#4fb990","#72bd84","#97bd75","#b4bc69","#cdb95e","#e2be50","#f4c13c","#ffd52a","#fde51e","#f9fb0e"]}}}},
{"width":25,"height":414,"view":{"stroke":null},"data":{"name":"barR"},"mark":{"type":"rect"},"encoding":{
"y":{"field":"lo","type":"quantitative","scale":{"domain":[0,30],"nice":false},"axis":{"orient":"right","values":[0,5,10,15,20,25,30],"labelFontSize":17,"labelPadding":17,"tickSize":-13,"title":null}},"y2":{"field":"hi"},
"color":{"field":"lo","type":"quantitative","legend":null,"scale":{"type":"threshold","domain":[1.5,3,4.5,6,7.5,9,10.5,12,13.5,15,16.5,18,19.5,21,22.5,24,25.5,27,28.5],"range":["#2a3aa8","#1450d0","#0f60dd","#1270da","#137dd9","#0e8ad5","#0a96d2","#06a3cb","#1caeb0","#31b5a0","#4fb990","#72bd84","#97bd75","#b4bc69","#cdb95e","#e2be50","#f4c13c","#ffd52a","#fde51e","#f9fb0e"]}}}}
],"resolve":{"scale":{"color":"independent","x":"independent","y":"independent"}}}
